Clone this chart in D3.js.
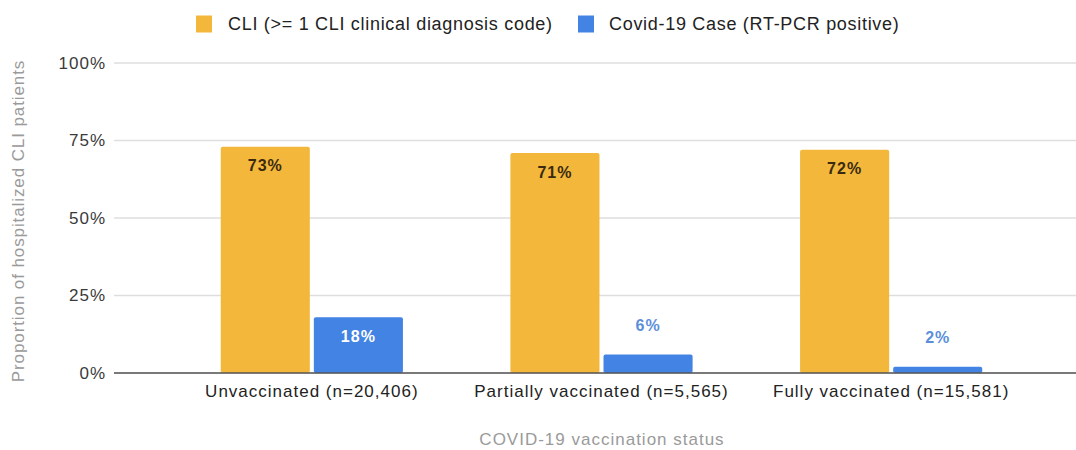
<!DOCTYPE html>
<html>
<head>
<meta charset="utf-8">
<script src="https://cdn.jsdelivr.net/npm/d3@7"></script>
<style>
  body { margin: 0; background: #fff; }
  svg { display: block; font-family: 'Liberation Sans', Arial, sans-serif; }
</style>
</head>
<body>
<script>
// chart data
var categories = ['Unvaccinated (n=20,406)', 'Partially vaccinated (n=5,565)', 'Fully vaccinated (n=15,581)'];
var seriesNames = ['CLI (>= 1 CLI clinical diagnosis code)', 'Covid-19 Case (RT-PCR positive)'];
var cliValues = [0.73, 0.71, 0.72];
var covidValues = [0.18, 0.06, 0.02];
var yTicks = [0, 0.25, 0.5, 0.75, 1];

var colors = ['#f3b83b', '#4383e4'];
var w = 1076, h = 450;

var svg = d3.select('body')
            .append('svg')
            .attr('width', w)
            .attr('height', h);

var rows = categories.map((c, i) => {
  return { cat: c, values: [cliValues[i], covidValues[i]] };
});

var x = d3.scaleBand()
  .domain(categories)
  .range([167, 1036])
  .paddingInner(0.371)
  .paddingOuter(0.1855);

var xSub = d3.scaleBand()
  .domain([0, 1])
  .range([0, x.bandwidth()])
  .paddingInner(0.043);

var y = d3.scaleLinear()
  .domain([0, 1])
  .range([373, 63]);

// gridlines
svg.selectAll('line.grid')
  .data(yTicks)
  .enter()
  .append('line')
    .attr('class', 'grid')
    .attr('x1', 114)
    .attr('x2', w)
    .attr('y1', d => y(d))
    .attr('y2', d => y(d))
    .attr('stroke', '#dedede')
    .attr('stroke-width', 1.5);

// y tick labels
svg.selectAll('text.ytick')
  .data(yTicks)
  .enter()
  .append('text')
    .attr('class', 'ytick')
    .attr('x', 106)
    .attr('y', d => y(d))
    .attr('dy', '0.35em')
    .attr('text-anchor', 'end')
    .attr('fill', '#3a3a3a')
    .attr('font-size', '17px')
    .attr('letter-spacing', '1px')
    .text(d => d3.format('.0%')(d));

// bars
var groups = svg.selectAll('g.group')
  .data(rows)
  .enter()
  .append('g')
    .attr('class', 'group')
    .attr('transform', d => 'translate(' + x(d.cat) + ',0)');

groups.selectAll('rect')
  .data(d => d.values.map((v, k) => ({ k: k, v: v })))
  .enter()
  .append('rect')
    .attr('x', d => xSub(d.k))
    .attr('y', d => y(d.v))
    .attr('width', xSub.bandwidth())
    .attr('height', d => y(0) - y(d.v))
    .attr('rx', 2)
    .attr('fill', d => colors[d.k]);

// baseline over bars
svg.append('line')
  .attr('x1', 114)
  .attr('x2', w)
  .attr('y1', y(0))
  .attr('y2', y(0))
  .attr('stroke', '#555')
  .attr('stroke-width', 1.5);

// value labels
groups.selectAll('text.val')
  .data(d => d.values.map((v, k) => ({ k: k, v: v })))
  .enter()
  .append('text')
    .attr('class', 'val')
    .attr('x', d => xSub(d.k) + xSub.bandwidth() / 2)
    .attr('y', d => {
      let inside = (y(0) - y(d.v)) > 30;
      return inside ? y(d.v) + 19 : y(d.v) - 29;
    })
    .attr('dy', '0.35em')
    .attr('text-anchor', 'middle')
    .attr('font-size', '16px')
    .attr('font-weight', 'bold')
    .attr('letter-spacing', '1px')
    .attr('fill', d => {
      let inside = (y(0) - y(d.v)) > 30;
      if (!inside) return '#5b8fdc';
      return d.k === 0 ? '#3a2a10' : '#fff';
    })
    .text(d => Math.round(d.v * 100) + '%');

// x tick labels
svg.selectAll('text.xtick')
  .data(categories)
  .enter()
  .append('text')
    .attr('class', 'xtick')
    .attr('x', d => x(d) + x.bandwidth() / 2)
    .attr('y', 391)
    .attr('dy', '0.35em')
    .attr('text-anchor', 'middle')
    .attr('fill', '#222')
    .attr('font-size', '17px')
    .attr('letter-spacing', '1px')
    .text(d => d);

// axis titles
svg.append('text')
  .attr('x', 602)
  .attr('y', 439)
  .attr('dy', '0.35em')
  .attr('text-anchor', 'middle')
  .attr('fill', '#9a9a9a')
  .attr('font-size', '17px')
  .attr('letter-spacing', '1px')
  .text('COVID-19 vaccination status');

svg.append('text')
  .attr('transform', 'translate(18,221) rotate(-90)')
  .attr('dy', '0.35em')
  .attr('text-anchor', 'middle')
  .attr('fill', '#9a9a9a')
  .attr('font-size', '17px')
  .attr('letter-spacing', '0.9px')
  .text('Proportion of hospitalized CLI patients');

// legend
var legendX = [196, 578];
var legendGap = [32, 31];
var legend = svg.selectAll('g.legend')
  .data(seriesNames)
  .enter()
  .append('g')
    .attr('class', 'legend')
    .attr('transform', (d, i) => 'translate(' + legendX[i] + ',24)');

legend.append('rect')
  .attr('x', 0)
  .attr('y', -8.5)
  .attr('width', 16)
  .attr('height', 17)
  .attr('fill', (d, i) => colors[i]);

legend.append('text')
  .attr('x', (d, i) => legendGap[i])
  .attr('dy', '0.35em')
  .attr('fill', '#222')
  .attr('font-size', '18px')
  .attr('letter-spacing', '0.7px')
  .text(d => d);
</script>
</body>
</html>
